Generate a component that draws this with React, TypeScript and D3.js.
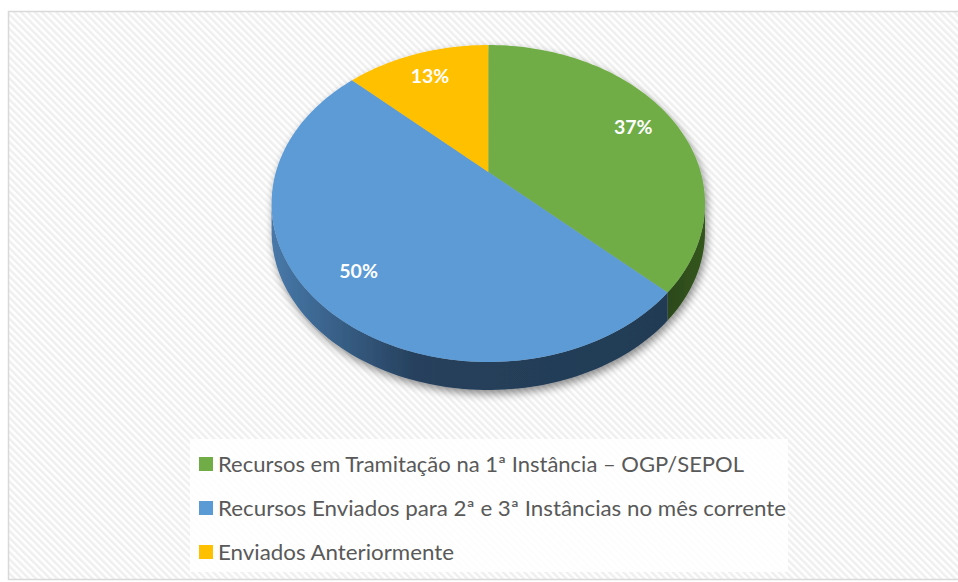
import React from 'react';
import * as d3 from 'd3';

const categories = [
  'Recursos em Tramitação na 1ª Instância – OGP/SEPOL',
  'Recursos Enviados para 2ª e 3ª Instâncias no mês corrente',
  'Enviados Anteriormente',
];
const values = [37, 50, 13];
const percentLabels = ['37%', '50%', '13%'];
const topColors = ['#70AD47', '#5B9BD5', '#FFC000'];
const sideFills = ['url(#gSideGreen)', 'url(#gSideBlue)', '#b38600'];
const legendTextWidths = [526, 568, 236];

const W = 958;
const H = 582;

// perspective projection of a tilted disc
const CX = 488.3;
const CY = 172;
const A = 212.4;
const B = 152.2;
const K = 0.1988;
const DEPTH = 28;

function project(theta: number, r: number): [number, number] {
  const u = r * Math.sin(theta);
  const w = r * Math.cos(theta);
  const d = 1 + K * w;
  return [CX + (A * u) / d, CY - (B * w) / d];
}

function arcPoints(a: number, b: number): [number, number][] {
  const n = Math.max(2, Math.ceil(((b - a) / (Math.PI * 2)) * 240));
  const pts: [number, number][] = [];
  for (let i = 0; i <= n; i++) {
    pts.push(project(a + ((b - a) * i) / n, 1));
  }
  return pts;
}

export default function App() {
  const pie = d3.pie<number>().sort(null).startAngle(0).endAngle(Math.PI * 2);
  const arcs = pie(values);
  const line = d3.line();

  const thetaRight = Math.acos(-K);
  const thetaLeft = Math.PI * 2 - thetaRight;

  const sides = arcs.map((a, i) => {
    const s = Math.max(a.startAngle, thetaRight);
    const e = Math.min(a.endAngle, thetaLeft);
    if (e <= s) return null;
    const top = arcPoints(s, e);
    const bottom = top.map(([x, y]) => [x, y + DEPTH] as [number, number]).reverse();
    return <path key={'s' + i} d={line([...top, ...bottom])! + 'Z'} fill={sideFills[i]} />;
  });

  const tops = arcs.map((a, i) => {
    const pts = [project(0, 0), ...arcPoints(a.startAngle, a.endAngle)];
    return <path key={'t' + i} d={line(pts)! + 'Z'} fill={topColors[i]} />;
  });

  const labelEls = arcs.map((a, i) => {
    const mid = (a.startAngle + a.endAngle) / 2;
    const [x, y] = project(mid, 0.79);
    return (
      <text
        key={'l' + i}
        x={x}
        y={y}
        dy="0.36em"
        textAnchor="middle"
        fill="#ffffff"
        fontFamily="Lato, 'Open Sans', sans-serif"
        fontWeight={700}
        fontSize={19.5}
      >
        {percentLabels[i]}
      </text>
    );
  });

  const legendX = 190;
  const legendY = 439;
  const rowY = (i: number) => 464 + i * 44;

  return (
    <svg
      width={W}
      height={H}
      style={{ position: 'absolute', left: 0, top: 0 }}
      xmlns="http://www.w3.org/2000/svg"
    >
      <defs>
        <pattern
          id="hatch"
          patternUnits="userSpaceOnUse"
          width={5}
          height={5}
          patternTransform="rotate(-45)"
        >
          <rect width={5} height={5} fill="#ffffff" />
          <rect width={2.5} height={5} fill="#efefef" />
        </pattern>
        <linearGradient id="gSideBlue" gradientUnits="userSpaceOnUse" x1={272} x2={705} y1={0} y2={0}>
          <stop offset="0" stopColor="#4878a8" />
          <stop offset="0.1" stopColor="#3d6893" />
          <stop offset="0.33" stopColor="#26415d" />
          <stop offset="1" stopColor="#223a53" />
        </linearGradient>
        <linearGradient id="gSideGreen" gradientUnits="userSpaceOnUse" x1={660} x2={705} y1={0} y2={0}>
          <stop offset="0" stopColor="#2a461a" />
          <stop offset="1" stopColor="#34561f" />
        </linearGradient>
        <filter id="shadow" x="-10%" y="-10%" width="125%" height="130%">
          <feGaussianBlur in="SourceAlpha" stdDeviation="4" />
          <feOffset dx="2" dy="4" result="b" />
          <feComponentTransfer>
            <feFuncA type="linear" slope="0.45" />
          </feComponentTransfer>
          <feMerge>
            <feMergeNode />
            <feMergeNode in="SourceGraphic" />
          </feMerge>
        </filter>
      </defs>

      <rect x={0} y={0} width={W} height={H} fill="#ffffff" />
      <rect x={8.5} y={11.5} width={962} height={568} fill="url(#hatch)" stroke="#d9d9d9" strokeWidth={1.5} />

      <g filter="url(#shadow)">
        {sides}
        {tops}
      </g>
      {labelEls}

      <rect x={legendX} y={legendY} width={598} height={133} fill="#ffffff" fillOpacity={0.85} />
      {categories.map((c, i) => (
        <g key={'lg' + i}>
          <rect x={199} y={rowY(i) - 7} width={14} height={14} fill={topColors[i]} />
          <text
            x={218}
            y={rowY(i) + 7.5}
            fill="#595959"
            fontFamily="Lato, 'Open Sans', sans-serif"
            fontSize={21}
            textLength={legendTextWidths[i]}
            lengthAdjust="spacingAndGlyphs"
          >
            {c}
          </text>
        </g>
      ))}
    </svg>
  );
}
